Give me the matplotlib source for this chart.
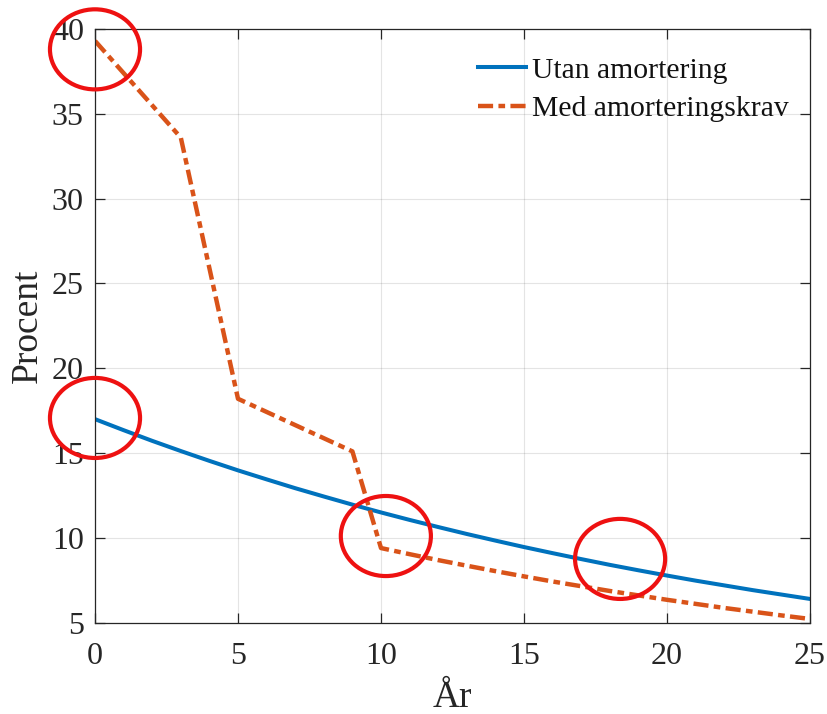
import matplotlib
matplotlib.use("Agg")
import matplotlib.pyplot as plt
from matplotlib.patches import Ellipse

plt.rcParams['font.family'] = ['Liberation Serif', 'DejaVu Serif']

# Data
years_utan = list(range(0, 26))
utan_amortering = [17.00, 16.35, 15.72, 15.12, 14.54, 13.98, 13.45, 12.93, 12.44, 11.96,
                   11.50, 11.06, 10.64, 10.23, 9.84, 9.46, 9.10, 8.75, 8.41, 8.09,
                   7.78, 7.48, 7.20, 6.92, 6.66, 6.40]
years_med = [0, 3, 5, 9, 10, 11, 12, 13, 14, 15, 16, 17, 18, 19, 20, 21, 22, 23, 24, 25]
med_amorteringskrav = [39.3, 33.6, 18.2, 15.1, 9.4, 9.04, 8.69, 8.36, 8.04, 7.73,
                       7.43, 7.15, 6.87, 6.61, 6.35, 6.11, 5.87, 5.65, 5.43, 5.22]
label_utan = "Utan amortering"
label_med = "Med amorteringskrav"
xticks = [0, 5, 10, 15, 20, 25]
yticks = [5, 10, 15, 20, 25, 30, 35, 40]
xlabel = "År"
ylabel = "Procent"
highlights = [(0, 38.8), (0, 17.07), (10.17, 10.11), (18.36, 8.76)]

fig = plt.figure(figsize=(8.27, 7.14), dpi=100)
ax = fig.add_axes([95/827, 1 - 622.7/714, (810-95)/827, (622.7-29)/714])

blue = '#0072BD'
orange = '#D95319'
ax.plot(years_utan, utan_amortering, color=blue, lw=2.9, label=label_utan)
ax.plot(years_med, med_amorteringskrav, color=orange, lw=3.2,
        linestyle=(0, (3.4, 1.2, 1.5, 1.2)), label=label_med)

ax.set_xlim(0, 25)
ax.set_ylim(5, 40)
ax.set_xticks(xticks)
ax.set_yticks(yticks)
ax.grid(True, color='#262626', alpha=0.12, lw=0.8)
ax.set_axisbelow(True)
for s in ax.spines.values():
    s.set_color('#262626')
    s.set_linewidth(0.9)
ax.tick_params(direction='in', top=True, right=True, length=7, width=0.9,
               colors='#262626', labelsize=23)
ax.tick_params(axis='x', pad=14)
ax.tick_params(axis='y', pad=8)
for lab in ax.get_xticklabels() + ax.get_yticklabels():
    lab.set_color('#262626')

ax.set_xlabel(xlabel, fontsize=27, color='#262626', labelpad=6.5)
ax.set_ylabel(ylabel, fontsize=27, color='#262626', labelpad=5)

leg = ax.legend(loc='upper right', frameon=False, fontsize=21.3,
                handlelength=1.6, handletextpad=0.2, labelspacing=0.4,
                borderaxespad=0.4, bbox_to_anchor=(1.003, 0.993))
for t in leg.get_texts():
    t.set_color('#111111')

# Red highlight circles
for cx, cy in highlights:
    e = Ellipse((cx, cy), width=3.15, height=4.72, fill=False,
                edgecolor='#EE1111', lw=3.0, clip_on=False, zorder=5)
    ax.add_patch(e)

fig.savefig('out.png', dpi=100)
